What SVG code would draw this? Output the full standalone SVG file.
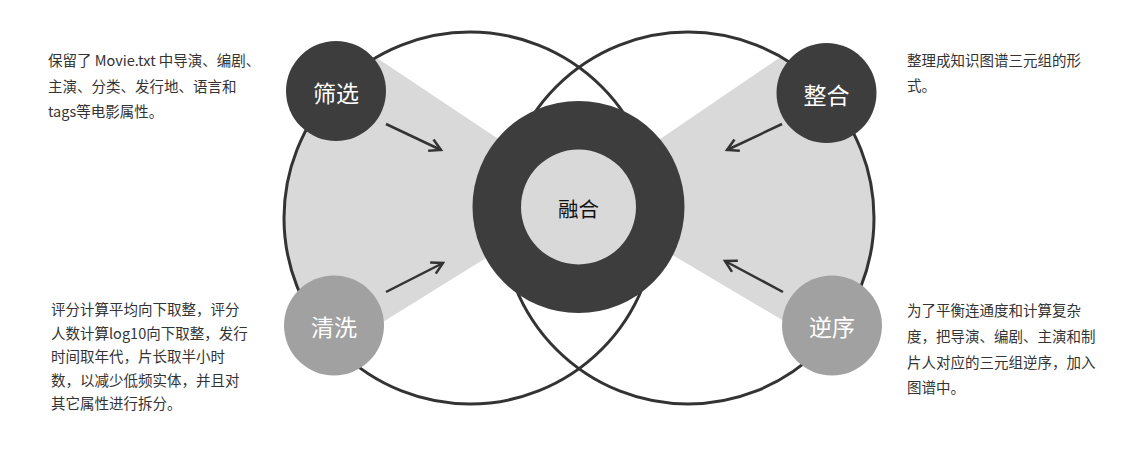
<svg xmlns="http://www.w3.org/2000/svg" width="1146" height="459" viewBox="0 0 1146 459">
<style>
.big{fill:none;stroke:#333;stroke-width:3}
.wedge{fill:#d9d9d9}
.dark{fill:#3d3d3d}
.gray{fill:#a1a1a1}
.lbl{font-family:"Noto Sans CJK SC","Microsoft YaHei",sans-serif;font-size:23px;fill:#fff;text-anchor:middle;dominant-baseline:central}
.desc{font-family:"Noto Sans CJK SC",sans-serif;font-size:14.5px;fill:#333}
.arrow{fill:none;stroke:#333;stroke-width:2.5;marker-end:url(#ah)}
</style>
<defs>
<marker id="ah" viewBox="0 0 12 12" refX="10" refY="6" markerWidth="6" markerHeight="6" orient="auto" markerUnits="strokeWidth">
<path d="M1,1 L10,6 L1,11" fill="none" stroke="#333" stroke-width="2"/>
</marker>
<clipPath id="cl"><circle cx="470" cy="218" r="186"/></clipPath>
<clipPath id="cr"><circle cx="688" cy="218" r="186"/></clipPath>
</defs>
<g id="background">
<polygon class="wedge" clip-path="url(#cl)" points="300,6.7 560,180 560,212 300,373.5 200,373.5 200,6.7"/>
<polygon class="wedge" clip-path="url(#cr)" points="860,3 600,180 600,212 880,378 960,378 960,3"/>
<circle class="big" cx="470" cy="218" r="186"/>
<circle class="big" cx="688" cy="218" r="186"/>
</g>
<g id="center">
<circle class="dark" cx="578.5" cy="207" r="106"/>
<circle class="wedge" cx="578.5" cy="207" r="57.5"/>
<text x="578.5" y="208" font-family="Noto Sans CJK SC,sans-serif" font-size="20.5" fill="#111" text-anchor="middle" dominant-baseline="central">融合</text>
</g>
<g id="connectors">
<line class="arrow" x1="386" y1="124" x2="441" y2="150"/>
<line class="arrow" x1="386" y1="292" x2="443" y2="263"/>
<line class="arrow" x1="782" y1="124" x2="727" y2="150"/>
<line class="arrow" x1="783" y1="292" x2="725" y2="261"/>
</g>
<g id="shaixuan">
<circle class="dark" cx="336" cy="91" r="50"/>
<text class="lbl" x="336" y="92">筛选</text>
</g>
<g id="qingxi">
<circle class="gray" cx="334" cy="325.5" r="50"/>
<text class="lbl" x="334" y="326">清洗</text>
</g>
<g id="zhenghe">
<circle class="dark" cx="826.5" cy="93" r="50"/>
<text class="lbl" x="826.5" y="94">整合</text>
</g>
<g id="nixu">
<circle class="gray" cx="832" cy="325.5" r="50"/>
<text class="lbl" x="832" y="326">逆序</text>
</g>
<g id="desc-top-left">
<text class="desc" x="48" y="66">保留了 Movie.txt 中导演、编剧、</text>
<text class="desc" x="48" y="92">主演、分类、发行地、语言和</text>
<text class="desc" x="48" y="117">tags等电影属性。</text>
</g>
<g id="desc-bottom-left">
<text class="desc" x="51" y="315">评分计算平均向下取整，评分</text>
<text class="desc" x="51" y="339">人数计算log10向下取整，发行</text>
<text class="desc" x="51" y="362">时间取年代，片长取半小时</text>
<text class="desc" x="51" y="386">数，以减少低频实体，并且对</text>
<text class="desc" x="51" y="409">其它属性进行拆分。</text>
</g>
<g id="desc-top-right">
<text class="desc" x="907" y="66">整理成知识图谱三元组的形</text>
<text class="desc" x="907" y="91">式。</text>
</g>
<g id="desc-bottom-right">
<text class="desc" x="907" y="316" font-size="15">为了平衡连通度和计算复杂</text>
<text class="desc" x="907" y="342" font-size="15">度，把导演、编剧、主演和制</text>
<text class="desc" x="907" y="368" font-size="15">片人对应的三元组逆序，加入</text>
<text class="desc" x="907" y="393" font-size="15">图谱中。</text>
</g>
</svg>
